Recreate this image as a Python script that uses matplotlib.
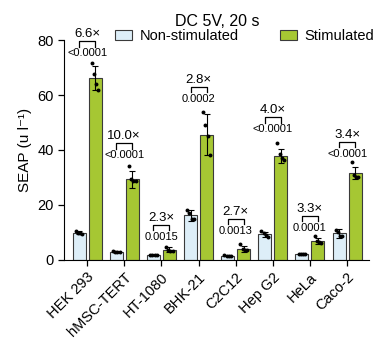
import numpy as np
import matplotlib
matplotlib.use("Agg")
import matplotlib.pyplot as plt
from matplotlib.patches import Patch

plt.rcParams["font.family"] = ["Liberation Sans", "DejaVu Sans"]

# data
cells = ["HEK 293", "hMSC-TERT", "HT-1080", "BHK-21", "C2C12", "Hep G2", "HeLa", "Caco-2"]
non_mean = [9.9, 3.0, 1.8, 16.2, 1.5, 9.3, 2.1, 9.6]
non_sd = [0.6, 0.2, 0.2, 2.0, 0.2, 0.9, 0.3, 1.6]
non_pts = [[10.6, 9.8, 9.7, 9.5], [3.2, 3.0, 2.9, 2.9], [1.9, 1.8, 1.7, 1.7],
           [18.0, 17.0, 14.8, 14.8], [1.6, 1.5, 1.4, 1.4], [10.5, 9.6, 9.0, 8.5],
           [2.3, 2.1, 2.0, 2.0], [10.8, 10.2, 8.8, 8.6]]
stim_mean = [66.3, 29.3, 3.7, 45.5, 4.0, 37.8, 6.8, 31.6]
stim_sd = [4.4, 3.2, 0.8, 7.5, 1.0, 2.7, 1.2, 2.2]
stim_pts = [[71.8, 67.5, 64.0, 62.0], [34.3, 29.5, 28.8, 28.8], [4.7, 3.6, 3.2, 3.1],
            [54.0, 49.0, 45.0, 38.0], [5.6, 4.0, 3.6, 3.5], [42.7, 38.5, 37.0, 36.2],
            [8.6, 7.0, 6.4, 6.1], [35.6, 31.0, 30.3, 30.0]]
fold = ["6.6×", "10.0×", "2.3×", "2.8×", "2.7×", "4.0×", "3.3×", "3.4×"]
pval = ["<0.0001", "<0.0001", "0.0015", "0.0002", "0.0013", "<0.0001", "0.0001", "<0.0001"]
bracket_y = [79.6, 42.5, 12.7, 63.0, 15.0, 52.0, 16.0, 43.0]

c_non = "#ddeef8"
c_stim = "#a6c733"
edge = "#3a3a3a"

fig = plt.figure(figsize=(3.86, 3.46), dpi=100)
ax = fig.add_axes([0.166, 0.249, 0.79, 0.635])

x = np.arange(len(cells))
w = 0.35
off = 0.215
jit = np.array([-0.09, -0.03, 0.03, 0.09])

ax.bar(x - off, non_mean, w, color=c_non, edgecolor=edge, lw=0.8, zorder=2)
ax.bar(x + off, stim_mean, w, color=c_stim, edgecolor=edge, lw=0.8, zorder=2)
ax.errorbar(x - off, non_mean, yerr=non_sd, fmt="none", ecolor="black", elinewidth=0.8, capsize=2.5, capthick=0.8, zorder=3)
ax.errorbar(x + off, stim_mean, yerr=stim_sd, fmt="none", ecolor="black", elinewidth=0.8, capsize=2.5, capthick=0.8, zorder=3)
for i in range(len(cells)):
    ax.scatter(x[i] - off + jit, non_pts[i], s=8, color="black", zorder=4, linewidths=0)
    ax.scatter(x[i] + off + jit, stim_pts[i], s=8, color="black", zorder=4, linewidths=0)

    by = bracket_y[i]
    ax.plot([x[i] - off, x[i] - off, x[i] + off, x[i] + off], [by - 2.0, by, by, by - 2.0],
            color="black", lw=0.9, clip_on=False)
    ax.text(x[i], by + 0.3, fold[i], ha="center", va="bottom", fontsize=9.5)
    ax.text(x[i], by - 2.6, pval[i], ha="center", va="top", fontsize=8)

ax.set_xlim(-0.62, 7.59)
ax.set_ylim(0, 80)
ax.set_yticks([0, 20, 40, 60, 80])
ax.set_xticks(x)
ax.set_xticklabels(cells, rotation=45, ha="right", rotation_mode="anchor")
ax.tick_params(labelsize=10.5, width=0.9, length=4)
ax.spines["top"].set_visible(False)
ax.spines["right"].set_visible(False)
ax.set_ylabel("SEAP (u l⁻¹)", fontsize=11)

fig.text(0.562, 0.937, "DC 5V, 20 s", ha="center", va="center", fontsize=11.5)
handles = [Patch(facecolor=c_non, edgecolor=edge, lw=0.8, label="Non-stimulated"),
           Patch(facecolor=c_stim, edgecolor=edge, lw=0.8, label="Stimulated")]
fig.legend(handles=handles, loc="center", bbox_to_anchor=(0.634, 0.896), ncol=2, frameon=False,
           fontsize=10.5, handlelength=1.15, handleheight=0.65, handletextpad=0.55, columnspacing=2.8,
           borderpad=0.0)

fig.savefig("out.png", dpi=100)
